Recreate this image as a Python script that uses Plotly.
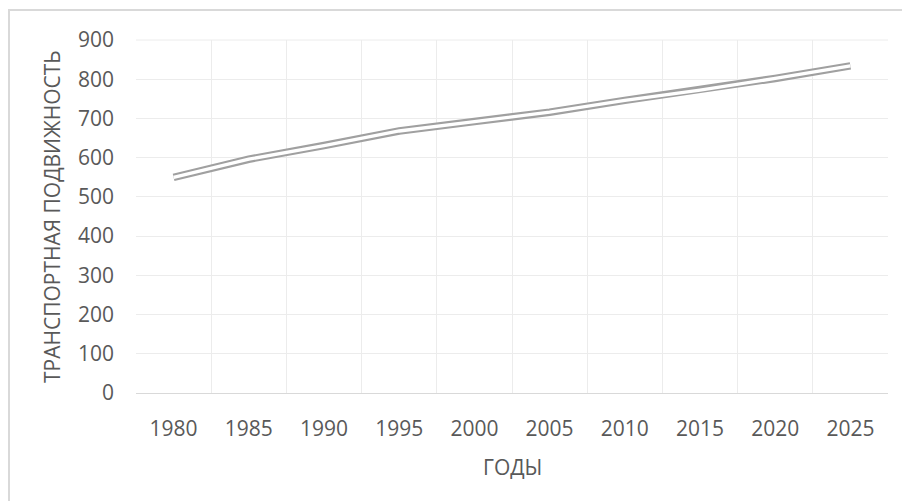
import plotly.graph_objects as go

years = ["1980", "1985", "1990", "1995", "2000", "2005", "2010", "2015", "2020", "2025"]
mobility = [550, 596, 631, 668, 692, 716, 746, 772, 802, 834]

x_title = "ГОДЫ"
y_title = "ТРАНСПОРТНАЯ ПОДВИЖНОСТЬ"

W, H = 910, 501
OFF = 8  # page body margin offset
# desired page-pixel plot area: left 136, right 888, top 40, bottom 393
L, T = 136 - OFF, 40 - OFF
R = W - (888 - OFF)
B = H - (393 - OFF)
pw, ph = W - L - R, H - T - B

def px_x(px):
    return (px - OFF - L) / pw

def px_y(py):
    return (H - B - (py - OFF)) / ph

font = "Open Sans"
txt = "#595959"
fs = 21

fig = go.Figure()
# double (compound) line: thick grey stroke with a white core
fig.add_trace(go.Scatter(x=years, y=mobility, mode="lines",
                         line=dict(color="#a0a0a0", width=7.5),
                         hoverinfo="skip", showlegend=False))
fig.add_trace(go.Scatter(x=years, y=mobility, mode="lines",
                         line=dict(color="#ffffff", width=3.3),
                         hoverinfo="skip", showlegend=False))

fig.update_layout(
    width=W, height=H,
    margin=dict(l=L, r=R, t=T, b=B),
    paper_bgcolor="white", plot_bgcolor="white",
    font=dict(family=font, size=fs, color=txt),
    showlegend=False,
    xaxis=dict(type="category", range=[-0.5, 9.5], tickson="boundaries",
               showgrid=True, gridcolor="#ececec", gridwidth=1,
               showline=True, linecolor="#d9d9d9", linewidth=1, mirror=False,
               ticks="", ticklabelstandoff=17,
               tickfont=dict(family=font, size=fs, color=txt),
               zeroline=False, fixedrange=True),
    yaxis=dict(range=[0, 900], dtick=100, tick0=0,
               showgrid=True, gridcolor="#ececec", gridwidth=1,
               showline=False, zeroline=False,
               ticks="", ticklabelstandoff=21,
               tickfont=dict(family=font, size=fs, color=txt),
               fixedrange=True),
    annotations=[
        dict(text=y_title, xref="paper", yref="paper",
             x=px_x(52), y=px_y(217), textangle=-90, showarrow=False,
             xanchor="center", yanchor="middle",
             font=dict(family=font, size=fs, color=txt)),
        dict(text=x_title, xref="paper", yref="paper",
             x=px_x(512), y=px_y(467), showarrow=False,
             xanchor="center", yanchor="middle",
             font=dict(family=font, size=fs, color=txt)),
    ],
    shapes=[
        # outer chart frame (partly off-canvas)
        dict(type="rect", xref="paper", yref="paper",
             x0=px_x(OFF + 1), x1=px_x(W + 30), y0=px_y(H + 30), y1=px_y(10),
             line=dict(color="#d9d9d9", width=2), layer="below"),
        # plot-area top edge
        dict(type="line", xref="paper", yref="paper", x0=0, x1=1, y0=1, y1=1,
             line=dict(color="#ececec", width=1), layer="below"),
    ],
)

fig.write_html("out.html")
